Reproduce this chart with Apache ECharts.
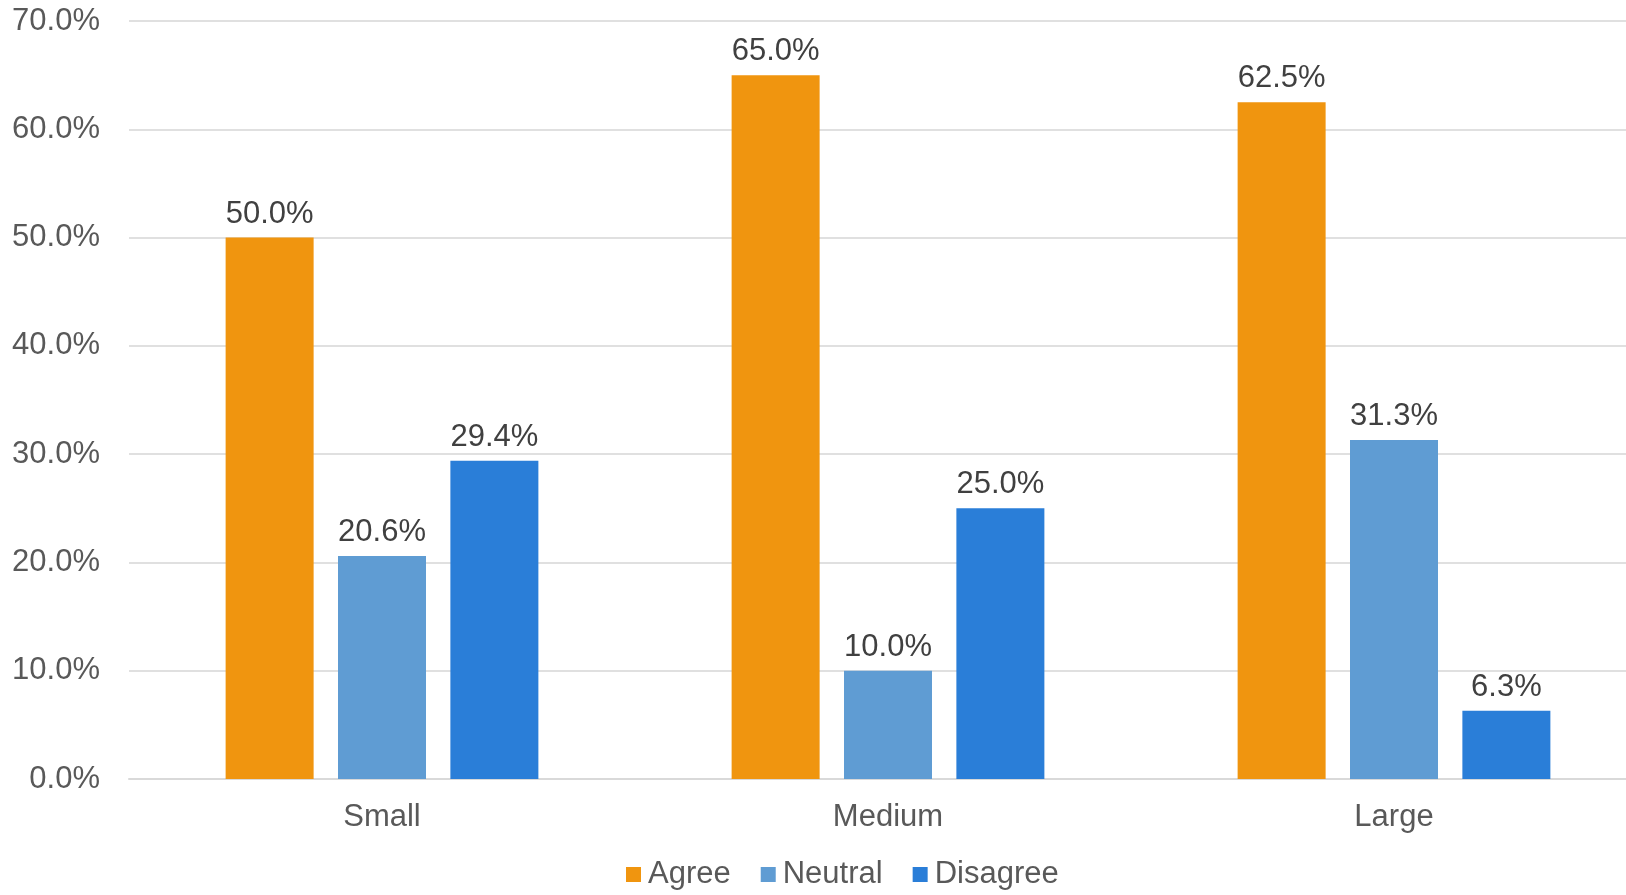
<!DOCTYPE html>
<html>
<head>
<meta charset="utf-8">
<script src="https://cdn.jsdelivr.net/npm/echarts@6/dist/echarts.min.js"></script>
<style>html,body{margin:0;padding:0;background:#fff}#c{width:1626px;height:895px}</style>
</head>
<body>
<div id="c"></div>
<script>
var categories = ['Small', 'Medium', 'Large'];
var seriesNames = ['Agree', 'Neutral', 'Disagree'];
var agree = [50.0, 65.0, 62.5];
var neutral = [20.6, 10.0, 31.3];
var disagree = [29.4, 25.0, 6.3];
var colors = ['#F0950F', '#5F9CD3', '#2A7ED8'];
var font = 'Liberation Sans, Arial, sans-serif';
var textColor = '#595959';

function mk(name, data, color) {
  return {
    name: name, type: 'bar', data: data,
    itemStyle: { color: color },
    barWidth: 88, barGap: '27.7%',
    label: {
      show: true, position: 'top', distance: 8,
      formatter: function (p) { return p.value.toFixed(1) + '%'; },
      fontFamily: font, fontSize: 31, color: '#404040'
    }
  };
}
var chart = echarts.init(document.getElementById('c'));
chart.setOption({
  animation: false,
  color: colors,
  grid: { left: 129, width: 1518, top: 21, bottom: 116, containLabel: false, outerBoundsMode: 'none' },
  legend: {
    data: seriesNames, bottom: 0, left: 621,
    icon: 'rect', itemWidth: 15, itemHeight: 15, itemGap: 30,
    textStyle: { fontFamily: font, fontSize: 31, color: textColor, padding: [0,0,0,2] }
  },
  xAxis: {
    type: 'category', data: categories,
    axisLine: { lineStyle: { color: '#d9d9d9', width: 2 } },
    axisTick: { show: false },
    axisLabel: { fontFamily: font, fontSize: 31, color: textColor, margin: 23 }
  },
  yAxis: {
    type: 'value', min: 0, max: 70, interval: 10,
    axisLine: { show: false }, axisTick: { show: false },
    splitLine: { lineStyle: { color: '#e0e0e0', width: 2 } },
    axisLabel: { fontFamily: font, fontSize: 31, color: textColor, margin: 29,
      formatter: function (v) { return v.toFixed(1) + '%'; } }
  },
  series: [mk('Agree', agree, colors[0]), mk('Neutral', neutral, colors[1]), mk('Disagree', disagree, colors[2])]
});
</script>
</body>
</html>
